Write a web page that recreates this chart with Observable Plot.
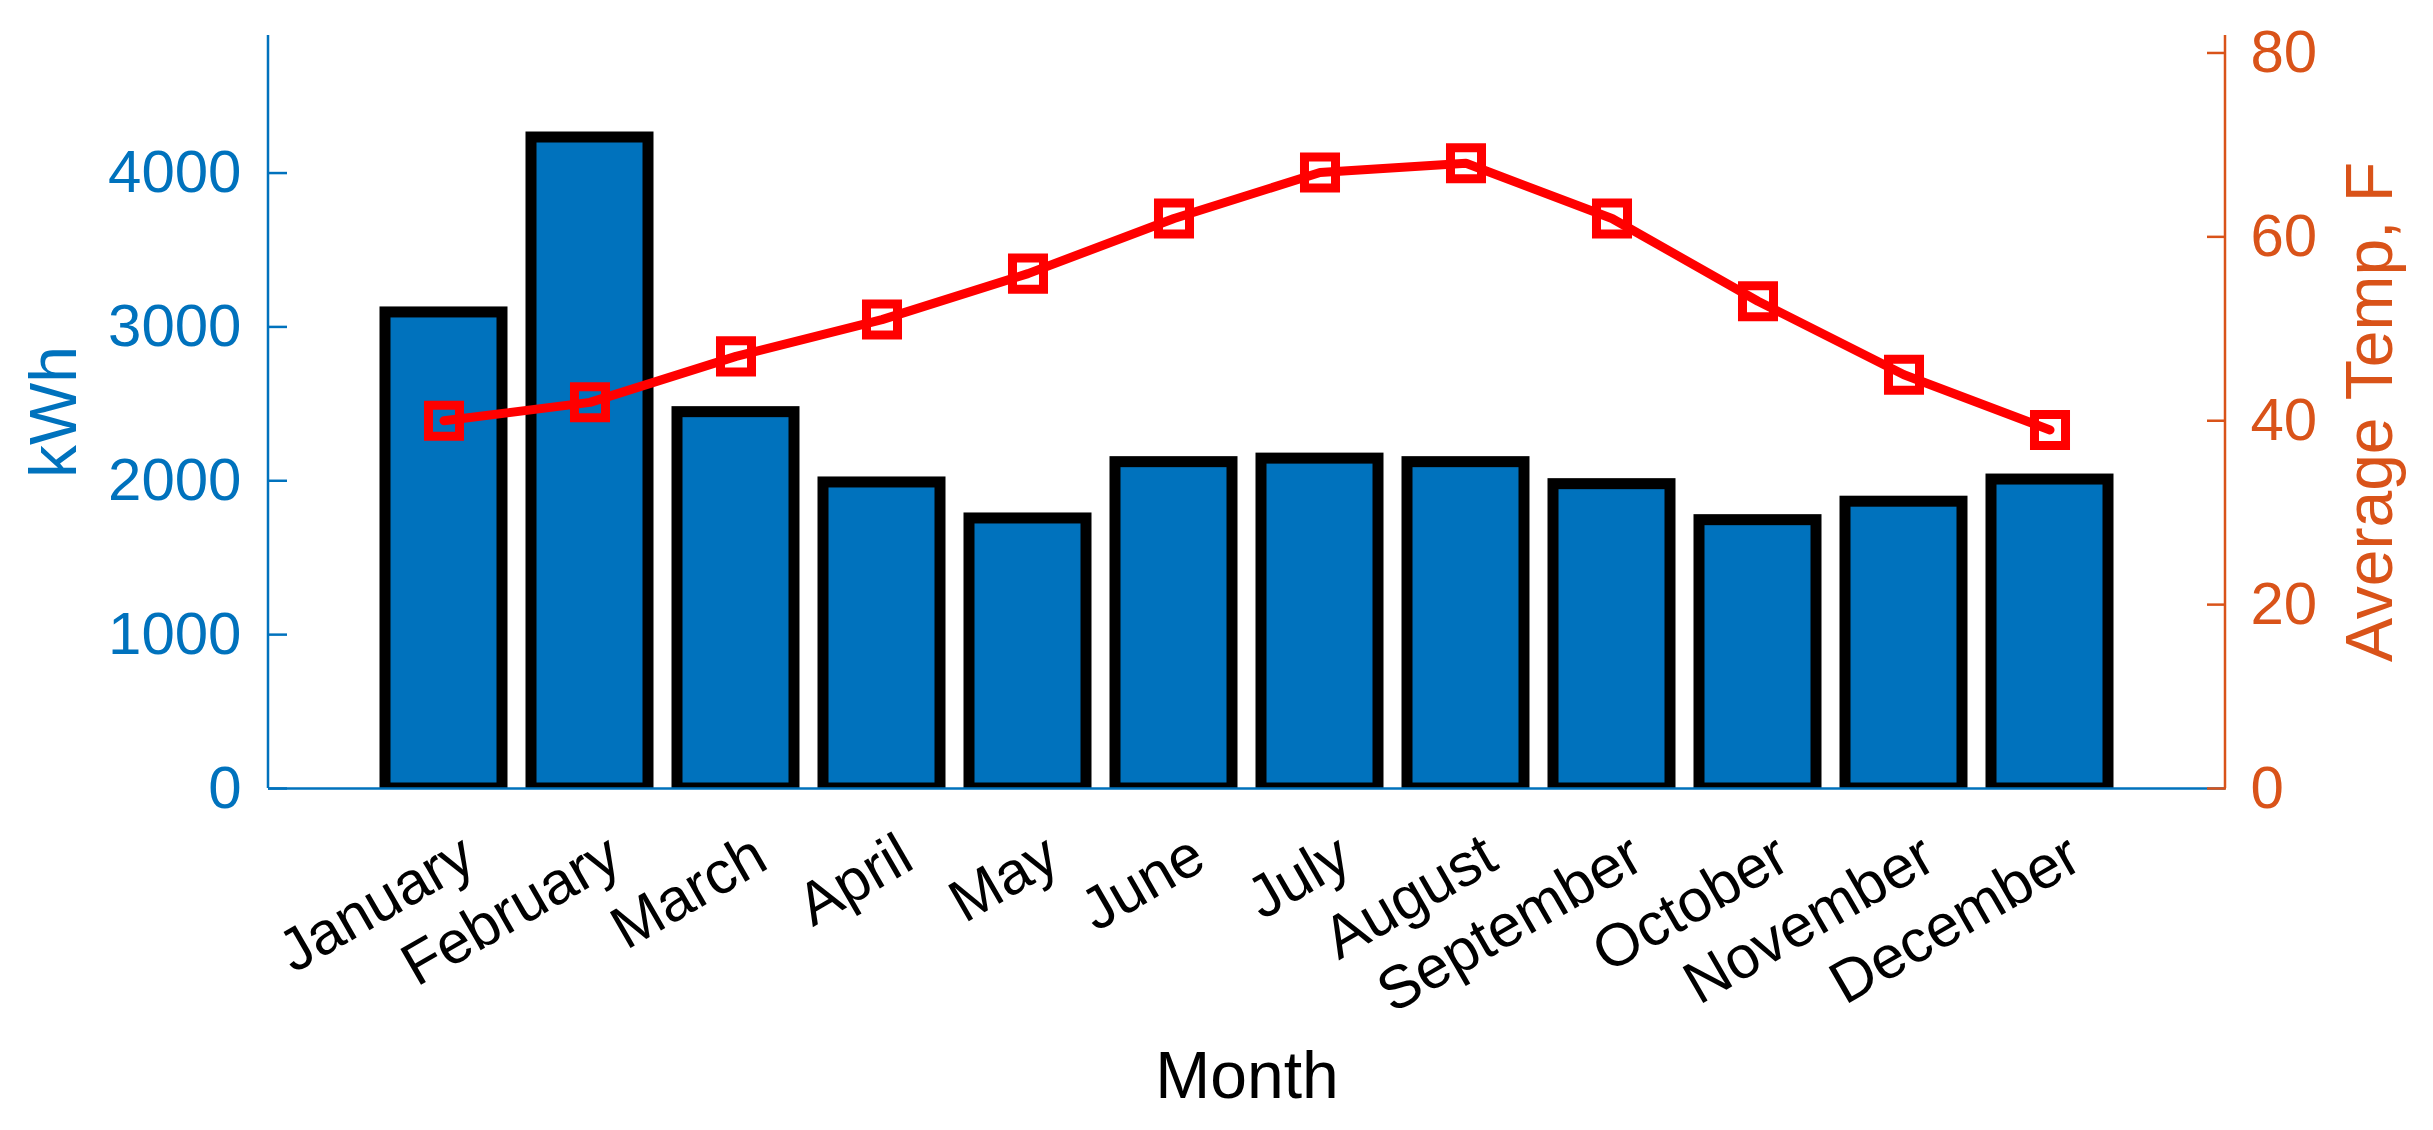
<!DOCTYPE html>
<html>
<head>
<meta charset="utf-8">
<script src="https://cdn.jsdelivr.net/npm/d3@7"></script>
<script src="https://cdn.jsdelivr.net/npm/@observablehq/plot@0.6"></script>
<style>
  html, body { margin: 0; padding: 0; background: #ffffff; }
  #chart { width: 2433px; height: 1130px; }
</style>
</head>
<body>
<div id="chart"></div>
<script>
const months = ["January","February","March","April","May","June","July","August","September","October","November","December"];
const kwh = [3094, 4231, 2446, 1989, 1755, 2121, 2144, 2121, 1978, 1744, 1864, 2008];
const temps = [40, 42, 47, 51, 56, 62, 67, 68, 62, 53, 45, 39];
const kwhTicks = [0, 1000, 2000, 3000, 4000];
const tempTicks = [0, 20, 40, 60, 80];
const kwhMax = 4894;
const tempMax = 81.9;

const leftColor = "#0072BD";
const rightColor = "#D95319";
const k = kwhMax / tempMax;

const data = months.map((m, i) => ({month: m, kwh: kwh[i], temp: temps[i], tempScaled: temps[i] * k}));

const svg = Plot.plot({
  width: 2433,
  height: 1130,
  marginTop: 35,
  marginBottom: 342,
  marginLeft: 268,
  marginRight: 208,
  style: {fontFamily: "'Liberation Sans', Arial, Helvetica, sans-serif", background: "#ffffff", overflow: "visible"},
  x: {type: "band", domain: months, paddingInner: 0.2, paddingOuter: 0.8, align: 0.5, axis: null},
  y: {domain: [0, kwhMax], axis: null},
  marks: [
    Plot.barY(data, {x: "month", y: "kwh", fill: leftColor, stroke: "#000000", strokeWidth: 11, clip: true}),
    Plot.ruleY([0], {stroke: leftColor, strokeWidth: 2.5}),
    Plot.line(data, {x: "month", y: "tempScaled", stroke: "#FF0000", strokeWidth: 9}),
    Plot.dot(data, {x: "month", y: "tempScaled", symbol: "square", r: 17.5, stroke: "#FF0000", strokeWidth: 9, fill: "none"}),
    // left axis ticks (inward) and labels
    Plot.axisY(kwhTicks, {anchor: "left", tickSize: 19, dx: 19, text: null, stroke: leftColor, strokeWidth: 2.5}),
    Plot.axisY(kwhTicks, {anchor: "left", tickSize: 0, tickPadding: 27, fontSize: 60, fill: leftColor, label: null, tickFormat: d => String(d)}),
    // right axis ticks (inward) and labels
    Plot.axisY(tempTicks.map(t => t * k), {anchor: "right", tickSize: 19, dx: -19, text: null, stroke: rightColor, strokeWidth: 2.5}),
    Plot.axisY(tempTicks.map(t => t * k), {anchor: "right", tickSize: 0, tickPadding: 25, fontSize: 60, fill: rightColor, label: null, tickFormat: d => String(Math.round(d / k))}),
    // x tick labels, rotated
    Plot.text(data, {x: "month", text: "month", frameAnchor: "bottom", rotate: -30, textAnchor: "end", lineAnchor: "middle", dx: 25, dy: 62, fontSize: 60, fill: "#000000"}),
    // axis titles
    Plot.text(["kWh"], {text: d => d, frameAnchor: "left", rotate: -90, dx: -214, fontSize: 66, fill: leftColor, lineAnchor: "middle", textAnchor: "middle"}),
    Plot.text(["Average Temp, F"], {text: d => d, frameAnchor: "right", rotate: -90, dx: 145, fontSize: 66, fill: rightColor, lineAnchor: "middle", textAnchor: "middle"}),
    Plot.text(["Month"], {text: d => d, frameAnchor: "bottom", dy: 288, fontSize: 66, fill: "#000000", lineAnchor: "middle", textAnchor: "middle"})
  ]
});

// axis lines drawn from the plot's own scales
const xs = svg.scale("x");
const ys = svg.scale("y");
const xr = xs.range;
const yr = ys.range;
const g = d3.select(svg).append("g");
g.append("line").attr("x1", xr[0]).attr("x2", xr[0]).attr("y1", yr[0]).attr("y2", yr[1])
  .attr("stroke", leftColor).attr("stroke-width", 2.5);
g.append("line").attr("x1", xr[1]).attr("x2", xr[1]).attr("y1", yr[0]).attr("y2", yr[1])
  .attr("stroke", rightColor).attr("stroke-width", 2.5);

document.getElementById("chart").appendChild(svg);
</script>
</body>
</html>
